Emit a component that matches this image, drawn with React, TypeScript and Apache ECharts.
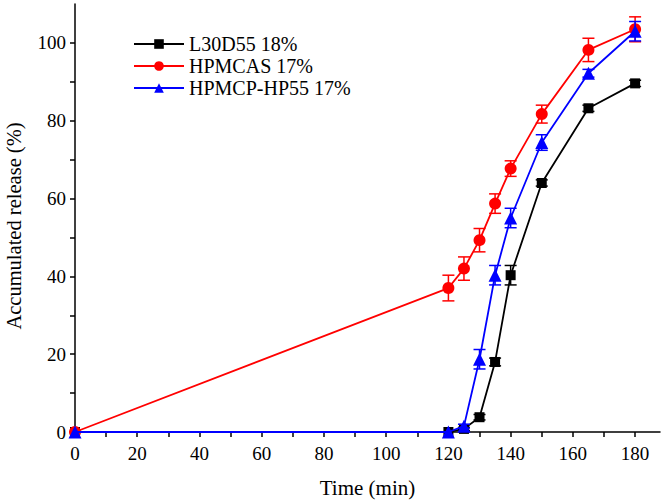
import React, { useEffect, useRef } from "react";
import * as echarts from "echarts";

const times = [0, 120, 125, 130, 135, 140, 150, 165, 180];
const l30d55 = [0, 0, 0.8, 3.8, 18, 40.3, 64, 83.2, 89.6];
const l30d55Err = [0, 0, 0.4, 0.7, 1, 2.5, 0.8, 0.8, 0.8];
const hpmcas = [0, 37, 42, 49.3, 58.7, 67.7, 81.7, 98.2, 103.5];
const hpmcasErr = [0, 3.3, 3, 3, 2.5, 2, 2.3, 3, 3.2];
const hpmcp = [0, 0, 1.5, 18.7, 40.3, 55, 74.4, 92.2, 103];
const hpmcpErr = [0, 0, 0.5, 2.5, 2.5, 2.5, 2, 1, 2.5];

const seriesNames = ["L30D55 18%", "HPMCAS 17%", "HPMCP-HP55 17%"];
const seriesColors = ["#000000", "#ff0000", "#0000ff"];
const seriesSymbols = ["rect", "circle", "triangle"];
const seriesSizes = [10, 12, 13];
const seriesValues = [l30d55, hpmcas, hpmcp];
const seriesErrors = [l30d55Err, hpmcasErr, hpmcpErr];

const xTicks = [0, 10, 20, 30, 40, 50, 60, 70, 80, 90, 100, 110, 120, 130, 140, 150, 160, 170, 180];
const xLabels = [0, 20, 40, 60, 80, 100, 120, 140, 160, 180];
const yTicks = [0, 10, 20, 30, 40, 50, 60, 70, 80, 90, 100];
const yLabels = [0, 20, 40, 60, 80, 100];

const xTitle = "Time (min)";
const yTitle = "Accumulated release (%)";

const FONT = "Liberation Serif";

export default function App() {
  const ref = useRef<HTMLDivElement>(null);
  useEffect(() => {
    if (!ref.current) return;
    const chart = echarts.init(ref.current, null, { renderer: "svg" });
    const lineSeries = seriesNames.map((name, i) => ({
      name,
      type: "line",
      data: times.map((t, j) => [t, seriesValues[i][j]]),
      symbol: seriesSymbols[i],
      symbolSize: seriesSizes[i],
      showAllSymbol: true,
      itemStyle: { color: seriesColors[i] },
      lineStyle: { color: seriesColors[i], width: 1.8 },
      z: 3 + i,
    }));
    const errSeries = seriesNames.map((name, i) => ({
      name: name + " error",
      type: "custom",
      data: times.map((t, j) => [t, seriesValues[i][j] - seriesErrors[i][j], seriesValues[i][j] + seriesErrors[i][j]]),
      renderItem: (params: any, api: any) => {
        const x = api.value(0);
        const lo = api.coord([x, api.value(1)]);
        const hi = api.coord([x, api.value(2)]);
        if (Math.abs(hi[1] - lo[1]) < 1) return null;
        const w = 6;
        const style = { stroke: seriesColors[i], lineWidth: 1.5 };
        return {
          type: "group",
          children: [
            { type: "line", shape: { x1: lo[0], y1: lo[1], x2: hi[0], y2: hi[1] }, style },
            { type: "line", shape: { x1: lo[0] - w, y1: lo[1], x2: lo[0] + w, y2: lo[1] }, style },
            { type: "line", shape: { x1: hi[0] - w, y1: hi[1], x2: hi[0] + w, y2: hi[1] }, style },
          ],
        };
      },
      z: 3 + i,
      silent: true,
    }));
    chart.setOption({
      animation: false,
      backgroundColor: "#ffffff",
      grid: { left: 75, right: 6, top: 4, bottom: 72, containLabel: false, outerBoundsMode: "none" },
      legend: {
        data: seriesNames,
        orient: "vertical",
        left: 128,
        top: 29,
        itemWidth: 50,
        itemHeight: 12,
        itemGap: 2,
        textStyle: { fontFamily: FONT, fontSize: 20, color: "#000" },
      },
      graphic: [
        {
          type: "text",
          x: 14,
          y: 226,
          rotation: Math.PI / 2,
          style: {
            text: yTitle,
            fontFamily: FONT,
            fontSize: 20.5,
            fill: "#000",
            align: "center",
            verticalAlign: "middle",
          },
        },
      ],
      xAxis: {
        type: "value",
        min: 0,
        max: 188,
        interval: 20,
        name: xTitle,
        nameLocation: "middle",
        nameGap: 45,
        nameTextStyle: { fontFamily: FONT, fontSize: 21, color: "#000", verticalAlign: "top" },
        axisLine: { show: true, onZero: false, lineStyle: { color: "#000", width: 1.5 } },
        axisTick: { show: true, inside: false, length: 5, lineStyle: { color: "#000", width: 1.5 }, customValues: xTicks },
        axisLabel: { fontFamily: FONT, fontSize: 19, color: "#000", margin: 12, customValues: xLabels },
        splitLine: { show: false },
      },
      yAxis: {
        type: "value",
        min: 0,
        max: 110,
        interval: 20,
        axisLine: { show: true, onZero: false, lineStyle: { color: "#000", width: 1.5 } },
        axisTick: { show: true, inside: false, length: 5, lineStyle: { color: "#000", width: 1.5 }, customValues: yTicks },
        axisLabel: { fontFamily: FONT, fontSize: 19, color: "#000", margin: 9, customValues: yLabels },
        splitLine: { show: false },
      },
      series: [...errSeries, ...lineSeries],
    });
    return () => chart.dispose();
  }, []);
  return <div ref={ref} style={{ width: 666, height: 504, position: "absolute", left: 0, top: 0 }} />;
}
